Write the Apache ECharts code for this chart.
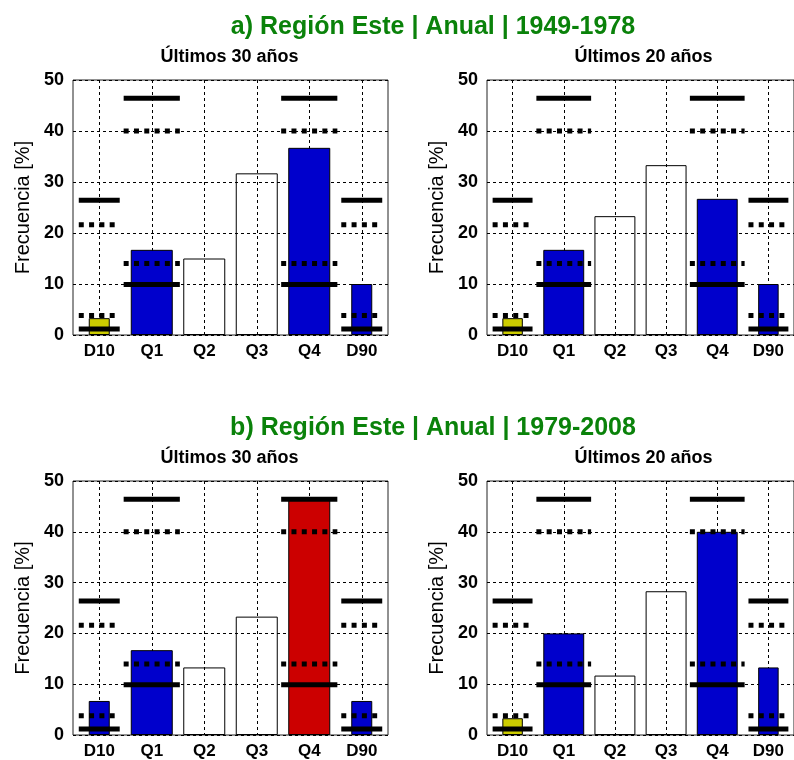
<!DOCTYPE html>
<html>
<head>
<meta charset="utf-8">
<script src="https://cdn.jsdelivr.net/npm/echarts@6/dist/echarts.min.js"></script>
<style>
html,body{margin:0;padding:0;background:#fff;}
#chart{width:794px;height:760px;}
</style>
</head>
<body>
<div id="chart"></div>
<script>
// ---- data ----
const categories = ['D10', 'Q1', 'Q2', 'Q3', 'Q4', 'D90'];
const yTicks = [0, 10, 20, 30, 40, 50];

const mainTitles = ['a) Región Este | Anual | 1949-1978', 'b) Región Este | Anual | 1979-2008'];
const subTitles = ['Últimos 30 años', 'Últimos 20 años'];
const yName = 'Frecuencia [%]';

// bar frequencies [%] per panel
const a30 = [3.3, 16.7, 15.0, 31.7, 36.7, 10.0];
const a20 = [3.3, 16.7, 23.3, 33.3, 26.7, 10.0];
const b30 = [6.7, 16.7, 13.3, 23.3, 46.7, 6.7];
const b20 = [3.3, 20.0, 11.7, 28.3, 40.0, 13.3];

// reference thresholds (same in every panel)
const decileCats = ['D10', 'D90'];
const quartileCats = ['Q1', 'Q4'];
const decileSolid = [1.2, 26.4];
const decileDotted = [3.8, 21.6];
const quartileSolid = [9.9, 46.4];
const quartileDotted = [14.0, 40.0];

// ---- build ----
const FONT = 'Liberation Sans, Arial, Helvetica, sans-serif';
const YELLOW = '#CCCC00', BLUE = '#0000CC', RED = '#CC0000';

const panels = [
  { data: a30, left: 73, top: 80, height: 255, sub: subTitles[0] },
  { data: a20, left: 487, top: 80, height: 255, sub: subTitles[1] },
  { data: b30, left: 73, top: 481, height: 256, sub: subTitles[0] },
  { data: b20, left: 487, top: 481, height: 256, sub: subTitles[1] }
];
const PW = 315;

function barColor(cat, v) {
  const isD = decileCats.includes(cat), isQ = quartileCats.includes(cat);
  if (!isD && !isQ) return 'rgba(255,255,255,0)';
  const solid = isD ? decileSolid : quartileSolid;
  const dotted = isD ? decileDotted : quartileDotted;
  if (v < dotted[0]) return YELLOW;
  if (v > solid[1]) return RED;
  return BLUE;
}

const grid = [], xAxis = [], yAxis = [], series = [], graphic = [];

panels.forEach((p, i) => {
  grid.push({ left: p.left, top: p.top, width: PW, height: p.height, show: true,
              borderColor: '#222', borderWidth: 1, backgroundColor: 'transparent' });
  // main category axis (labels + vertical grid)
  xAxis.push({
    type: 'category', gridIndex: i, data: categories,
    axisLine: { show: false }, axisTick: { show: false },
    axisLabel: { color: '#000', fontFamily: FONT, fontWeight: 'bold', fontSize: 17, margin: 8, interval: 0 },
    splitLine: { show: true, alignWithLabel: true, interval: 0, lineStyle: { color: '#000', type: [3, 3], width: 1 } }
  });
  // hidden axis for narrow decile bars
  xAxis.push({
    type: 'category', gridIndex: i, data: categories, show: false
  });
  yAxis.push({
    type: 'value', gridIndex: i, min: yTicks[0], max: yTicks[yTicks.length - 1], interval: 10,
    name: yName, nameLocation: 'middle', nameGap: 40,
    nameTextStyle: { color: '#000', fontFamily: FONT, fontSize: 20 },
    axisLine: { show: false }, axisTick: { show: false },
    axisLabel: { color: '#000', fontFamily: FONT, fontWeight: 'bold', fontSize: 18, margin: 9 },
    splitLine: { show: true, lineStyle: { color: '#000', type: [3, 3], width: 1 } }
  });

  const wide = categories.map((c, k) => decileCats.includes(c) ? '-' :
    { value: p.data[k], itemStyle: { color: barColor(c, p.data[k]) } });
  const narrow = categories.map((c, k) => decileCats.includes(c) ?
    { value: p.data[k], itemStyle: { color: barColor(c, p.data[k]) } } : '-');

  series.push({
    type: 'bar', xAxisIndex: 2 * i, yAxisIndex: i, data: wide, barWidth: '80%',
    itemStyle: { borderColor: '#000', borderWidth: 1 }, z: 2, silent: true
  });
  series.push({
    type: 'bar', xAxisIndex: 2 * i + 1, yAxisIndex: i, data: narrow, barWidth: '40%',
    itemStyle: { borderColor: '#000', borderWidth: 1 }, z: 2, silent: true
  });

  // threshold marks: [categoryIndex, value, dotted(0/1), wide(0/1)]
  const thr = [];
  decileCats.forEach(c => {
    const k = categories.indexOf(c);
    decileSolid.forEach(v => thr.push([k, v, 0, 0]));
    decileDotted.forEach(v => thr.push([k, v, 1, 0]));
  });
  quartileCats.forEach(c => {
    const k = categories.indexOf(c);
    quartileSolid.forEach(v => thr.push([k, v, 0, 1]));
    quartileDotted.forEach(v => thr.push([k, v, 1, 1]));
  });
  series.push({
    type: 'custom', xAxisIndex: 2 * i, yAxisIndex: i, data: thr, z: 5, silent: true,
    encode: { x: 0, y: 1 }, clip: false,
    renderItem: function (params, api) {
      const pt = api.coord([api.value(0), api.value(1)]);
      const band = api.size([1, 0])[0];
      const w = band * (api.value(3) ? 1.07 : 0.78);
      const dotted = api.value(2) === 1;
      return {
        type: 'line',
        shape: { x1: pt[0] - w / 2, y1: pt[1], x2: pt[0] + w / 2, y2: pt[1] },
        style: { stroke: '#000', lineWidth: 5, lineDash: dotted ? [5, 5.3] : null, lineCap: 'butt' }
      };
    }
  });

  graphic.push({
    type: 'text', x: p.left + PW / 2 - 1, y: p.top - 23,
    style: { text: p.sub, fill: '#000', font: 'bold 18px ' + FONT, align: 'center', verticalAlign: 'middle' }
  });
});

graphic.push({
  type: 'text', x: 433, y: 27,
  style: { text: mainTitles[0], fill: '#0A820A', font: 'bold 25px ' + FONT, align: 'center', verticalAlign: 'middle' }
});
graphic.push({
  type: 'text', x: 433, y: 428,
  style: { text: mainTitles[1], fill: '#0A820A', font: 'bold 25px ' + FONT, align: 'center', verticalAlign: 'middle' }
});

const chart = echarts.init(document.getElementById('chart'), null, { renderer: 'canvas' });
chart.setOption({
  backgroundColor: '#fff',
  animation: false,
  grid, xAxis, yAxis, series, graphic
});
</script>
</body>
</html>
